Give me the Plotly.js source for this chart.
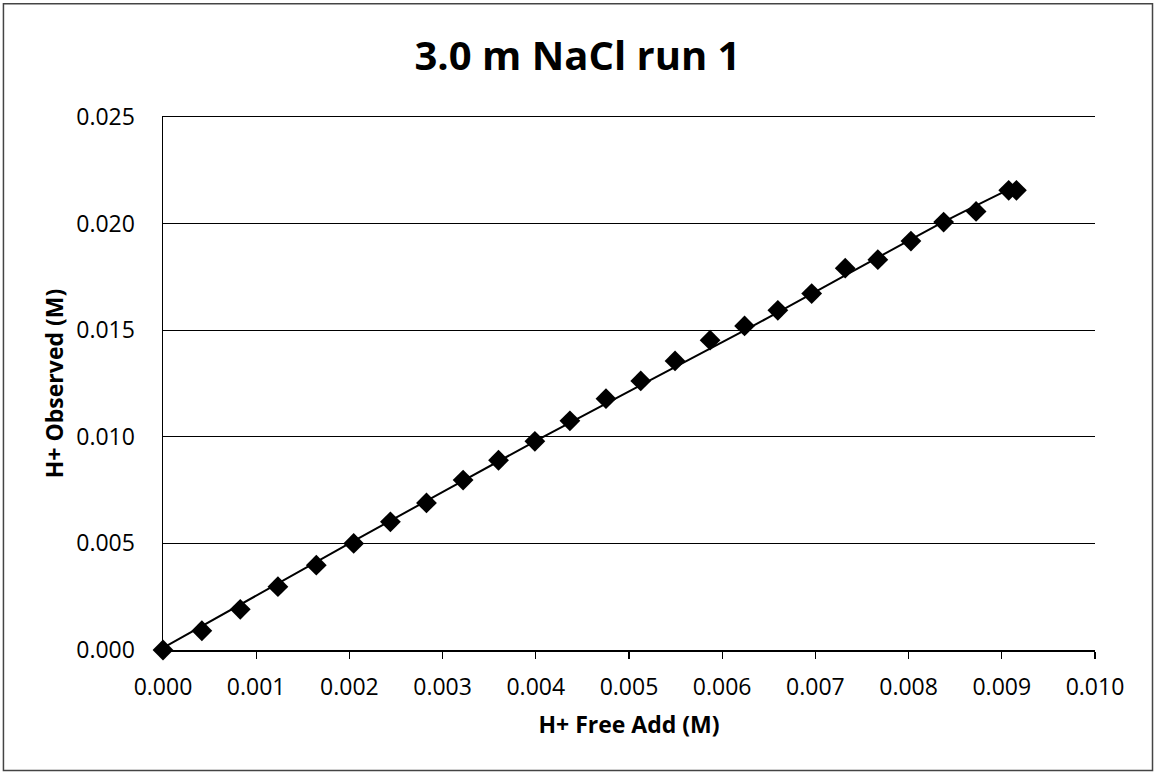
<!DOCTYPE html>
<html>
<head>
<meta charset="utf-8">
<script src="https://cdn.plot.ly/plotly-3.0.1.min.js"></script>
<style>html,body{margin:0;padding:0;background:#fff;}#chart{width:1155px;height:772px;}</style>
</head>
<body>
<div id="chart"></div>
<script>
// Observed data points
var hFreeAdd = [0.0000, 0.000417, 0.000829, 0.001233, 0.001645, 0.002046, 0.00244, 0.002827,
  0.00322, 0.0036, 0.00399, 0.004366, 0.004753, 0.005126, 0.005494, 0.00587, 0.00624,
  0.006597, 0.00696, 0.00732, 0.00767, 0.008025, 0.008376, 0.008724, 0.009074, 0.009157];
var hObserved = [0.0000, 0.000904, 0.00191, 0.00297, 0.00398, 0.00500, 0.00601, 0.0069,
  0.00797, 0.0089, 0.00979, 0.01075, 0.01179, 0.01262, 0.01356, 0.01453, 0.0152,
  0.01593, 0.01672, 0.01791, 0.01831, 0.01918, 0.02007, 0.02057, 0.02156, 0.02156];
// Fitted trend line
var fitX = [0.0000, 0.002, 0.00408, 0.006245, 0.00834, 0.00912];
var fitY = [0.0001, 0.0050, 0.0100, 0.0150, 0.0200, 0.0217];

var xTicks = [0, 0.001, 0.002, 0.003, 0.004, 0.005, 0.006, 0.007, 0.008, 0.009, 0.010];
var yTicks = [0, 0.005, 0.010, 0.015, 0.020, 0.025];

var FONT = 'Open Sans, Lato, sans-serif';

var traces = [
  {
    x: fitX, y: fitY, type: 'scatter', mode: 'lines',
    line: {color: '#000', width: 2, shape: 'spline', smoothing: 0.6},
    hoverinfo: 'skip', showlegend: false, cliponaxis: false
  },
  {
    x: hFreeAdd, y: hObserved, type: 'scatter', mode: 'markers',
    marker: {symbol: 'diamond', size: 16, color: '#000'},
    showlegend: false, cliponaxis: false
  }
];

var layout = {
  width: 1155, height: 772,
  margin: {l: 163, r: 60, t: 117, b: 122},
  paper_bgcolor: '#fff', plot_bgcolor: '#fff',
  font: {family: FONT, color: '#000', size: 23},
  title: {
    text: '<b>3.0 m NaCl run 1</b>',
    font: {family: FONT, size: 40, color: '#000'},
    x: 0.5, xanchor: 'center', y: 0.927, yanchor: 'middle'
  },
  xaxis: {
    range: [0, 0.010], tickvals: xTicks, tickformat: '.3f',
    showgrid: false, zeroline: false,
    showline: true, mirror: true, linecolor: '#000', linewidth: 1.5,
    ticks: 'outside', ticklen: 7, tickcolor: '#000', tickwidth: 1.2,
    ticklabelstandoff: 9,
    tickfont: {family: FONT, size: 23, color: '#000'},
    title: {text: '<b>H+ Free Add (M)</b>', font: {family: FONT, size: 23, color: '#000'}, standoff: 16}
  },
  yaxis: {
    range: [0, 0.025], tickvals: yTicks, tickformat: '.3f',
    showgrid: true, gridcolor: '#000', gridwidth: 1.3, zeroline: false,
    showline: true, linecolor: '#000', linewidth: 1.5,
    ticks: '', ticklabelstandoff: 22,
    tickfont: {family: FONT, size: 23, color: '#000'},
    title: {text: '<b>H+ Observed (M)</b>', font: {family: FONT, size: 23, color: '#000'}, standoff: 6}
  },
  shapes: [{
    type: 'rect', xref: 'paper', yref: 'paper',
    x0: -0.1712, x1: 1.0617, y0: -0.2259, y1: 1.2127,
    line: {color: '#444', width: 1.5}, fillcolor: 'rgba(0,0,0,0)'
  }]
};

Plotly.newPlot('chart', traces, layout, {displayModeBar: false, staticPlot: true});
</script>
</body>
</html>
